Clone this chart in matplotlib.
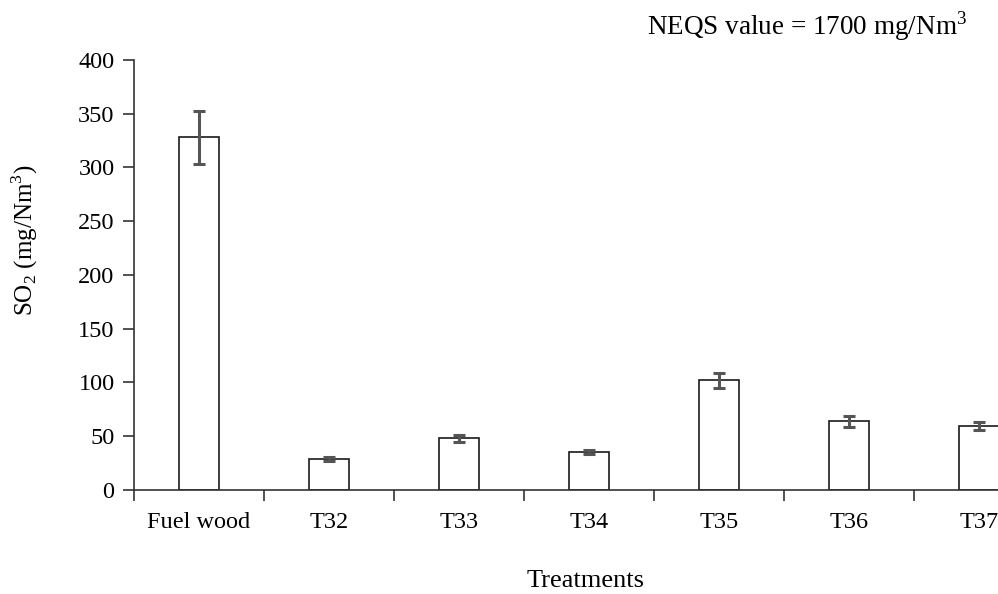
import matplotlib.pyplot as plt
import numpy as np

categories = ['Fuel wood', 'T32', 'T33', 'T34', 'T35', 'T36', 'T37']
so2 = [328, 29, 48, 35.5, 102, 64, 59.5]
so2_err = [25, 2, 3.5, 2, 7, 5, 4]
yticks = [0, 50, 100, 150, 200, 250, 300, 350, 400]

plt.rcParams['font.family'] = ['Liberation Serif', 'DejaVu Serif']
plt.rcParams['mathtext.fontset'] = 'custom'
plt.rcParams['mathtext.rm'] = 'Liberation Serif'

fig = plt.figure(figsize=(9.98, 5.94), dpi=100)
ax = fig.add_axes([0.1343, 0.1751, 0.9118, 0.7239])

x = np.arange(len(categories))
ax.bar(x, so2, width=0.31, color='white', edgecolor='#1a1a1a', linewidth=1.2,
       yerr=so2_err, error_kw=dict(ecolor='#555555', elinewidth=2.2, capsize=4.5, capthick=2.2))

ax.set_xlim(-0.5, len(categories) - 0.5)
ax.set_ylim(0, 400)
ax.set_yticks(yticks)

# category boundaries get ticks, labels sit in the middle
ax.set_xticks(np.arange(len(categories) + 1) - 0.5)
ax.set_xticklabels([])
ax.set_xticks(x, minor=True)
ax.set_xticklabels(categories, minor=True)
ax.tick_params(axis='x', which='major', direction='out', length=8, width=1.2, color='#333333')
ax.tick_params(axis='x', which='minor', length=0, pad=16, labelsize=17.5)
ax.tick_params(axis='y', direction='out', length=8, width=1.2, color='#333333', pad=6, labelsize=17.5)

for s in ['top', 'right']:
    ax.spines[s].set_visible(False)
for s in ['left', 'bottom']:
    ax.spines[s].set_color('#333333')
    ax.spines[s].set_linewidth(1.2)

fig.text(0.025, 1 - 240 / 594, r'SO$_2$ (mg/Nm$^3$)', rotation=90, fontsize=18,
         ha='center', va='center')
fig.text(0.587, 1 - 581 / 594, 'Treatments', fontsize=19, ha='center', va='center')
fig.text(0.969, 1 - 26 / 594, r'NEQS value = 1700 mg/Nm$^3$', fontsize=19.5,
         ha='right', va='center')

fig.savefig('out.png', dpi=100)
